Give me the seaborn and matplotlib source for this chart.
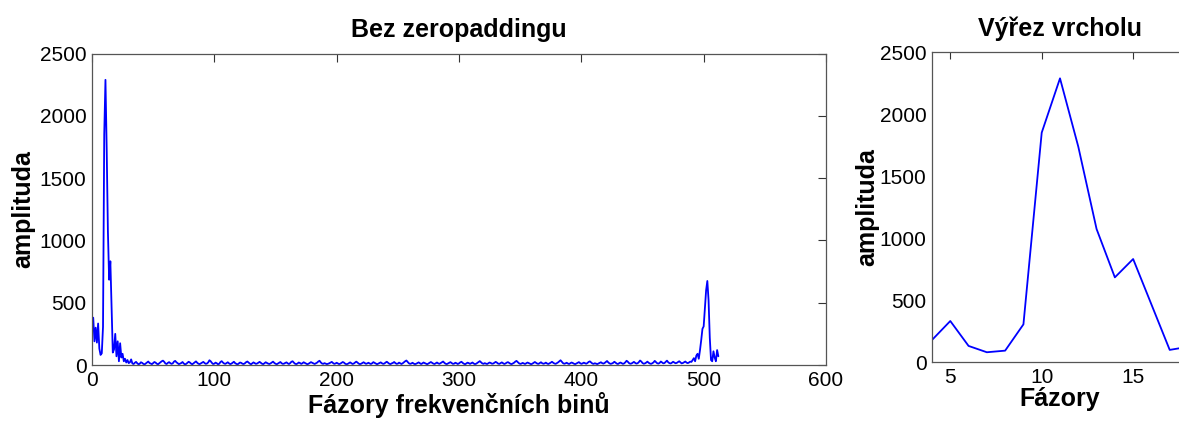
import numpy as np
import pandas as pd
import matplotlib
matplotlib.use("Agg")
import matplotlib.pyplot as plt
import seaborn as sns

# Magnitude spectrum |X[k]|, bins numbered from 1 (512 bins)
low_bins = [380, 190, 300, 180, 333, 132, 81, 94, 306, 1852, 2290, 1739, 1075, 685,
            833, 467, 100, 125, 250, 70, 190, 30, 175, 60, 90, 30, 50, 20, 40, 15,
            22, 45]
noise_floor = [
    12, 8, 18, 25, 14, 6, 10, 22, 17, 9, 5, 13, 20, 28, 16, 11, 7, 15, 24, 19,
    10, 6, 14, 21, 30, 35, 26, 12, 8, 17, 23, 15, 9, 13, 27, 33, 22, 14, 7, 11,
    16, 24, 12, 5, 9, 18, 26, 20, 11, 6, 14, 22, 29, 18, 10, 7, 13, 19, 25, 16,
    9, 12, 21, 38, 30, 17, 8, 11, 19, 14, 6, 10, 24, 31, 20, 12, 9, 16, 22, 13,
    7, 11, 18, 26, 15, 9, 5, 12, 20, 17, 10, 8, 14, 23, 28, 19, 11, 6, 13, 21,
    15, 9, 12, 19, 25, 18, 10, 7, 14, 22, 16, 11, 8, 13, 20, 27, 17, 10, 6, 12,
    18, 24, 14, 9, 11, 17, 21, 13, 8, 15, 26, 30, 19, 10, 7, 12, 20, 16, 9, 14,
    22, 17, 11, 6, 10, 16, 23, 18, 12, 8, 13, 19, 28, 34, 21, 12, 9, 15, 11, 7,
    10, 14, 20, 25, 16, 9, 12, 18, 13, 7, 11, 17, 24, 19, 10, 6, 9, 15, 21, 14,
    8, 12, 19, 27, 20, 11, 7, 10, 16, 22, 15, 9, 13, 18, 12, 8, 14, 23, 17, 10,
    6, 11, 16, 21, 14, 9, 12, 20, 26, 18, 10, 7, 13, 17, 24, 15, 9, 11, 19, 13,
    8, 14, 22, 30, 36, 25, 14, 9, 12, 18, 11, 7, 10, 16, 21, 14, 8, 13, 20, 15,
    10, 6, 12, 19, 24, 17, 11, 8, 14, 20, 13, 9, 15, 22, 28, 18, 10, 7, 12, 17,
    23, 16, 9, 11, 18, 14, 8, 13, 21, 26, 17, 10, 6, 12, 19, 15, 9, 14, 20, 12,
    7, 10, 17, 24, 31, 22, 13, 9, 15, 11, 8, 14, 20, 16, 10, 12, 18, 25, 19, 11,
    9, 15, 21, 14, 8, 12, 19, 23, 16, 10, 7, 13, 18, 27, 33, 24, 14, 9, 11, 17,
    12, 8, 14, 20, 15, 10, 6, 11, 18, 24, 17, 11, 9, 16, 22, 14, 10, 13, 19, 12,
    8, 13, 19, 26, 18, 12, 9, 15, 21, 30, 38, 27, 15, 10, 13, 18, 12, 8, 14, 20,
    16, 10, 7, 12, 17, 23, 15, 9, 13, 19, 14, 10, 16, 25, 29, 20, 12, 9, 14, 11,
    7, 12, 18, 22, 15, 11, 16, 24, 32, 21, 13, 9, 12, 17, 26, 19, 11, 8, 15, 20,
    14, 9, 13, 22, 34, 26, 15, 10, 12, 18, 25, 17, 11, 14, 23, 36, 28, 16, 10, 13,
    19, 27, 18, 12, 9, 14, 21, 33, 24, 14, 11, 17, 28, 20, 13, 16, 25, 35, 22, 15,
    12, 18, 26, 20, 14, 17, 24, 30, 21, 13, 16, 22, 28, 19, 15, 20, 27,
]
high_bins = [25, 40, 55, 30, 75, 90, 50, 120, 200, 290, 310, 450, 600, 675, 520,
             220, 40, 30, 110, 60, 30, 120, 70]

amplitude = low_bins + noise_floor + high_bins
bins = list(range(1, len(amplitude) + 1))
spectrum = pd.DataFrame({"bin": bins, "amplitude": amplitude})

sns.set_style("white")
plt.rcParams["font.family"] = ["Liberation Sans", "DejaVu Sans"]
plt.rcParams["text.color"] = "black"
plt.rcParams["axes.labelcolor"] = "black"
plt.rcParams["axes.titlecolor"] = "black"

W, H = 1179, 423
fig = plt.figure(figsize=(W / 100, H / 100), dpi=100)

def frame(left, right, bottom, top):
    return [left / W, 1 - bottom / H, (right - left) / W, (bottom - top) / H]

ax1 = fig.add_axes(frame(92, 826, 365, 53.7))
ax2 = fig.add_axes(frame(932, 1188, 362.3, 52.3))

for ax in (ax1, ax2):
    sns.lineplot(data=spectrum, x="bin", y="amplitude", ax=ax, color="#0000ff",
                 linewidth=1.3, estimator=None, sort=False)
    ax.set_ylim(0, 2500)
    ax.set_yticks([0, 500, 1000, 1500, 2000, 2500])
    ax.tick_params(direction="in", length=6, width=0.8, colors="#333333",
                   labelcolor="black", labelsize=15, top=True, right=True,
                   pad=4)
    for s in ax.spines.values():
        s.set_color("#555555")
        s.set_linewidth(0.9)
        s.set_visible(True)

ax1.set_xlim(0, 600)
ax1.set_xticks([0, 100, 200, 300, 400, 500, 600])
ax1.set_title("Bez zeropaddingu", fontsize=18, fontweight="bold", pad=12)
ax1.set_xlabel("Fázory frekvenčních binů", fontsize=18, fontweight="bold",
               labelpad=2)
ax1.set_ylabel("amplituda", fontsize=18, fontweight="bold", labelpad=3)

ax2.set_xlim(4, 18)
ax2.set_xticks([5, 10, 15])
ax2.set_title("Výřez vrcholu", fontsize=18, fontweight="bold", pad=12)
ax2.set_xlabel("Fázory", fontsize=18, fontweight="bold", labelpad=0)
ax2.set_ylabel("amplituda", fontsize=18, fontweight="bold", labelpad=0)
ax2.tick_params(length=5)

fig.savefig("out.png", dpi=100, facecolor="white")
